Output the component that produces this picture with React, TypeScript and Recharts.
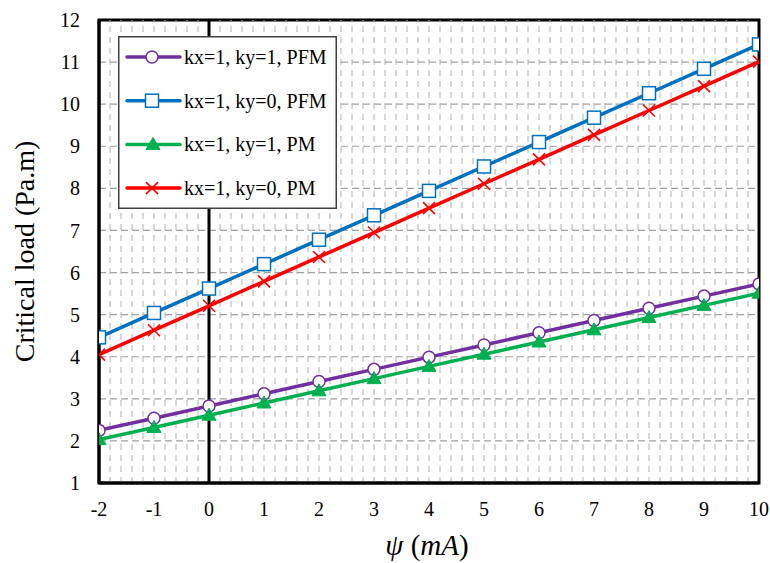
import React from "react";
import {
  LineChart,
  Line,
  XAxis,
  YAxis,
  CartesianGrid,
  ReferenceLine,
  ReferenceArea,
} from "recharts";

const psiValues = [-2, -1, 0, 1, 2, 3, 4, 5, 6, 7, 8, 9, 10];
const pfmKy1 = [2.25, 2.54, 2.83, 3.12, 3.41, 3.7, 3.99, 4.28, 4.57, 4.86, 5.15, 5.44, 5.73];
const pfmKy0 = [4.46, 5.04, 5.62, 6.2, 6.78, 7.36, 7.94, 8.52, 9.1, 9.68, 10.26, 10.84, 11.42];
const pmKy1 = [2.03, 2.32, 2.61, 2.9, 3.19, 3.48, 3.77, 4.06, 4.35, 4.64, 4.93, 5.22, 5.51];
const pmKy0 = [4.05, 4.63, 5.21, 5.79, 6.37, 6.95, 7.53, 8.11, 8.69, 9.27, 9.85, 10.43, 11.01];

const xTicks = [-2, -1, 0, 1, 2, 3, 4, 5, 6, 7, 8, 9, 10];
const yTicks = [1, 2, 3, 4, 5, 6, 7, 8, 9, 10, 11, 12];

const seriesNames = [
  "kx=1, ky=1, PFM",
  "kx=1, ky=0, PFM",
  "kx=1, ky=1, PM",
  "kx=1, ky=0, PM",
];
const yTitle = "Critical load (Pa.m)";

const FONT = "'Liberation Serif', 'Times New Roman', serif";
const COLORS = ["#7030A0", "#0070C0", "#00B050", "#FF0000"];
const KEYS = ["a", "b", "c", "d"];
const MARKERS = ["circle", "square", "triangle", "cross"];

const data = psiValues.map((x, i) => ({
  x,
  a: pfmKy1[i],
  b: pfmKy0[i],
  c: pmKy1[i],
  d: pmKy0[i],
}));

// minor vertical grid positions (every 0.2 between integer ticks)
const minorX: number[] = [];
for (let i = 0; i < xTicks.length - 1; i++) {
  for (let k = 1; k < 5; k++) {
    minorX.push(Math.round((xTicks[i] + k * 0.2) * 100) / 100);
  }
}

function Marker({ kind, cx, cy, color }: { kind: string; cx: number; cy: number; color: string }) {
  if (kind === "circle")
    return <circle cx={cx} cy={cy} r={6} fill="#fff" stroke={color} strokeWidth={1.5} />;
  if (kind === "square")
    return <rect x={cx - 6.5} y={cy - 6.5} width={13} height={13} fill="#fff" stroke={color} strokeWidth={1.5} />;
  if (kind === "triangle")
    return (
      <polygon
        points={`${cx},${cy - 7} ${cx - 7},${cy + 5} ${cx + 7},${cy + 5}`}
        fill={color}
        stroke={color}
        strokeWidth={1}
      />
    );
  return (
    <g stroke={color} strokeWidth={1.6}>
      <line x1={cx - 6} y1={cy - 6} x2={cx + 6} y2={cy + 6} />
      <line x1={cx - 6} y1={cy + 6} x2={cx + 6} y2={cy - 6} />
    </g>
  );
}

const makeDot = (idx: number) => (props: any) => {
  const { cx, cy, index } = props;
  if (cx == null || cy == null) return <g key={`d${idx}-${index}`} />;
  return (
    <g key={`d${idx}-${index}`}>
      <Marker kind={MARKERS[idx]} cx={cx} cy={cy} color={COLORS[idx]} />
    </g>
  );
};

const XTitle = (props: any) => {
  const vb = props.viewBox || {};
  const cx = vb.x + vb.width / 2 - 2;
  const y = vb.y + 72;
  return (
    <text x={cx} y={y} textAnchor="middle" fontFamily={FONT} fontSize={29} fill="#000">
      <tspan fontStyle="italic">ψ</tspan>
      <tspan> (</tspan>
      <tspan fontStyle="italic">mA</tspan>
      <tspan>)</tspan>
    </text>
  );
};

const YTitle = (props: any) => {
  const vb = props.viewBox || {};
  const cy = vb.y + vb.height / 2;
  const cx = 25 + 9;
  return (
    <text
      x={cx}
      y={cy}
      textAnchor="middle"
      fontFamily={FONT}
      fontSize={28}
      fill="#000"
      transform={`rotate(-90 ${cx} ${cy})`}
    >
      {yTitle}
    </text>
  );
};

function LegendBox() {
  return (
    <div
      style={{
        position: "absolute",
        left: 118,
        top: 36,
        width: 219,
        height: 173,
      }}
    >
      <svg width={219} height={173} style={{ display: "block" }}>
        <rect x={0.75} y={0.75} width={217.5} height={171.5} fill="#fff" stroke="#404040" strokeWidth={1.5} />
        {seriesNames.map((name, i) => {
          const y = 21 + i * 43.7;
          return (
            <g key={name}>
              <line x1={9} y1={y} x2={62} y2={y} stroke={COLORS[i]} strokeWidth={3.5} strokeLinecap="round" />
              <Marker kind={MARKERS[i]} cx={i === 2 ? 35 : 34} cy={y} color={COLORS[i]} />
              <text x={66} y={y + 7} fontFamily={FONT} fontSize={20} fill="#000">
                {name}
              </text>
            </g>
          );
        })}
      </svg>
    </div>
  );
}

export default function App() {
  return (
    <div style={{ position: "absolute", left: 0, top: 0, width: 770, height: 563, background: "#fff" }}>
      <LineChart
        width={770}
        height={563}
        data={data}
        margin={{ top: 20, right: 11, left: 39, bottom: 50 }}
      >
        <CartesianGrid
          vertical={false}
          stroke="#a0a0a0"
          strokeDasharray="7 4"
          strokeWidth={1.2}
        />
        {minorX.map((v) => (
          <ReferenceLine
            key={`m${v}`}
            x={v}
            stroke="#b0b0b0"
            strokeDasharray="6 5"
            strokeWidth={1}
          />
        ))}
        {xTicks.slice(1, -1).map((v) =>
          v === 0 ? null : (
            <ReferenceLine key={`M${v}`} x={v} stroke="#b0b0b0" strokeDasharray="6 5" strokeWidth={1} />
          )
        )}
        <XAxis
          dataKey="x"
          type="number"
          domain={[-2, 10]}
          ticks={xTicks}
          allowDataOverflow
          tickLine={false}
          axisLine={{ stroke: "#000", strokeWidth: 3 }}
          tick={{ fontFamily: FONT, fontSize: 20, fill: "#000" }}
          tickMargin={13}
          height={30}
          label={<XTitle />}
        />
        <YAxis
          type="number"
          domain={[1, 12]}
          ticks={yTicks}
          allowDataOverflow
          tickLine={false}
          axisLine={{ stroke: "#000", strokeWidth: 3 }}
          tick={{ fontFamily: FONT, fontSize: 20, fill: "#000" }}
          tickMargin={13}
          width={60}
          label={<YTitle />}
        />
        <ReferenceLine x={0} stroke="#000" strokeWidth={3} />
        <ReferenceArea x1={-2} x2={10} y1={1} y2={12} fill="none" stroke="#000" strokeWidth={3} />
        {KEYS.map((k, i) => (
          <Line
            key={k}
            dataKey={k}
            name={seriesNames[i]}
            stroke={COLORS[i]}
            strokeWidth={3.5}
            dot={makeDot(i)}
            activeDot={false}
            isAnimationActive={false}
          />
        ))}
      </LineChart>
      <LegendBox />
    </div>
  );
}
